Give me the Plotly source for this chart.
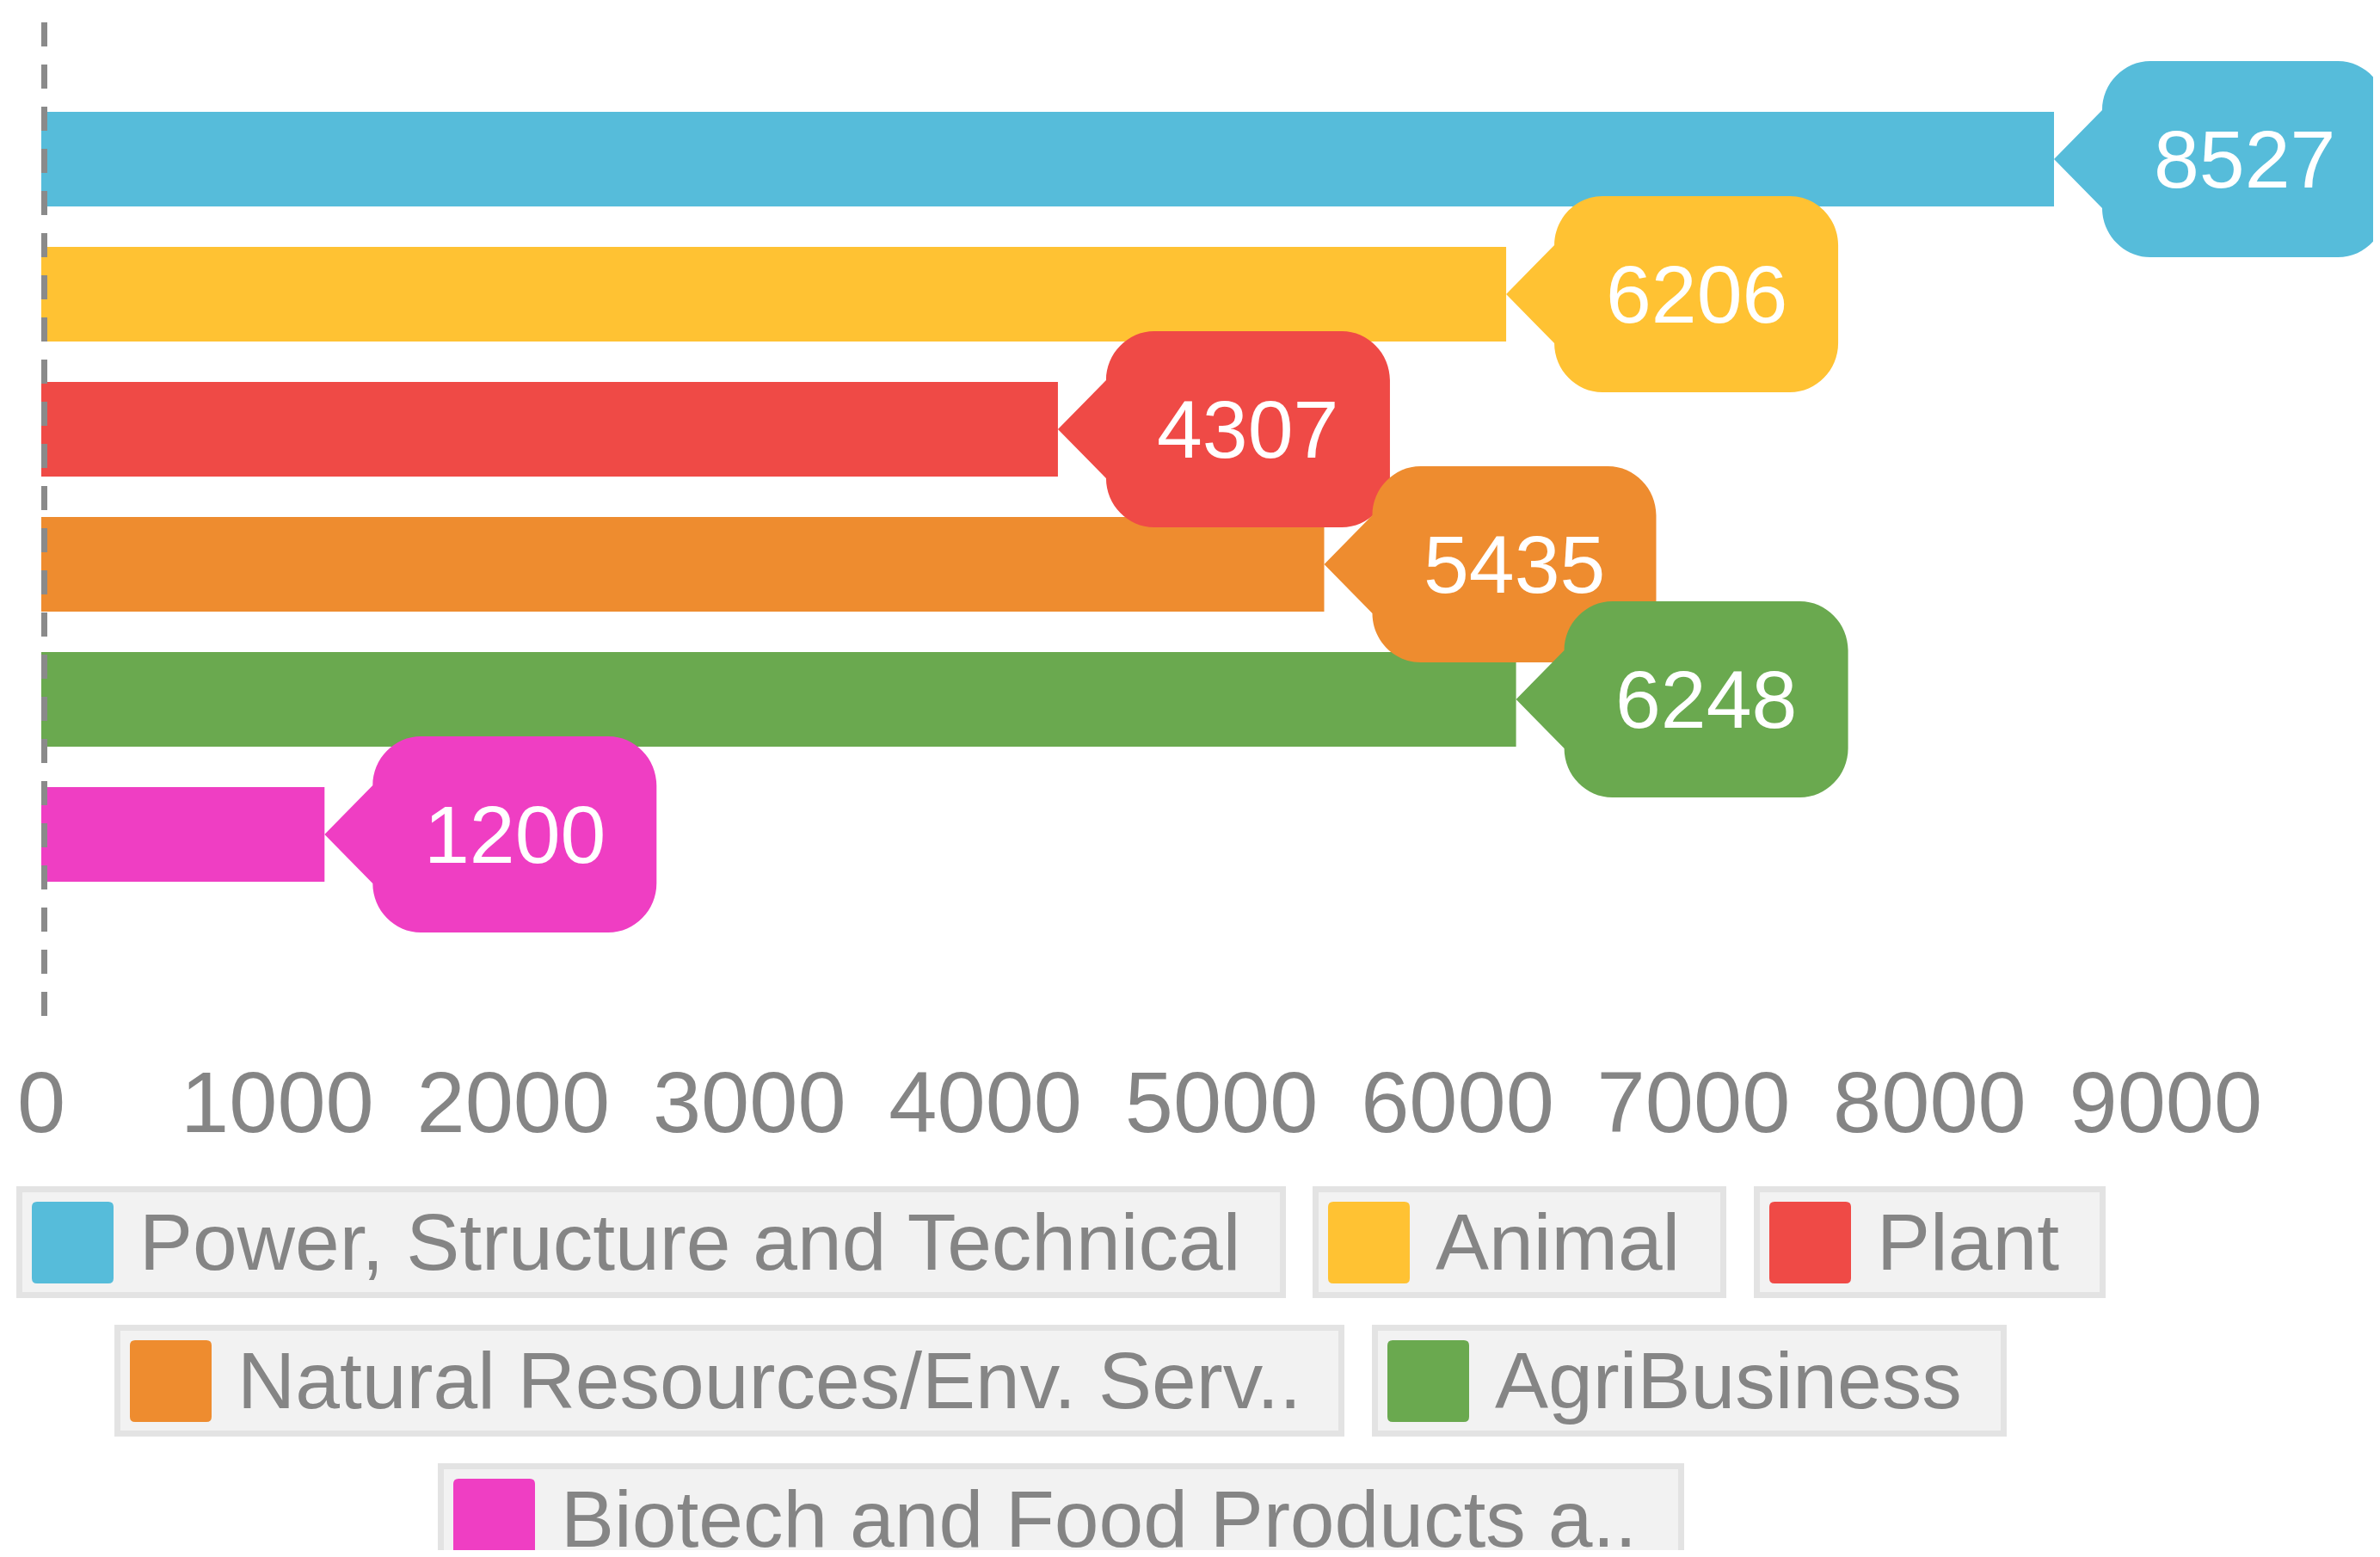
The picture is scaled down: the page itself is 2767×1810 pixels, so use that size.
import plotly.graph_objects as go

# ---------------- data ----------------
categories = ["Power, Structure and Technical", "Animal", "Plant",
              "Natural Resources/Env. Serv..", "AgriBusiness",
              "Biotech and Food Products a.."]
values = [8527, 6206, 4307, 5435, 6248, 1200]
colors = ["#56BCDA", "#FFC233", "#EF4A46", "#EE8C2F", "#6AA94F", "#EF3EC3"]
tick_values = [0, 1000, 2000, 3000, 4000, 5000, 6000, 7000, 8000, 9000]
tick_labels = ["0", "1000", "2000", "3000", "4000", "5000", "6000", "7000", "8000", "9000"]

FONT = "Arial, Liberation Sans, sans-serif"
GRAY = "#858585"

OFF = 8  # default page body margin
W, H = 2767 - 2 * OFF, 1810 - 2 * OFF
L, T = 48 - OFF, 26 - OFF
B = H - (1186 - OFF)
R = 0
PW, PH = W - L - R, H - T - B
XMAX = PW / (2340 / 8527)  # keep 0 -> page px 48, 8527 -> page px 2388


def px2paper_x(px):
    return (px - OFF - L) / PW


def px2paper_y(py):
    return (H - B - (py - OFF)) / PH


fig = go.Figure()
for i, (cat, val, col) in enumerate(zip(categories, values, colors)):
    fig.add_trace(go.Bar(
        x=[val], y=[i], orientation="h", width=0.7,
        marker=dict(color=col, line=dict(width=0)),
        name=cat, showlegend=False, hoverinfo="x+name",
    ))

shapes = []
# dashed zero line
shapes.append(dict(type="line", xref="x", yref="paper", xsizemode="pixel", xanchor=0,
                   x0=3.5, x1=3.5, y0=1, y1=0,
                   line=dict(color="#8A8A8A", width=7, dash="28px,21px"), layer="above"))

# callouts
a, hh, HH, Wc, r = 56, 57, 114, 330, 56
k = 0.5523 * r


def callout_path():
    p = f"M0,0 L{a},{hh} "
    p += f"C{a},{hh + k} {a + r - k},{HH} {a + r},{HH} "
    p += f"L{a + Wc - r},{HH} "
    p += f"C{a + Wc - r + k},{HH} {a + Wc},{hh + k} {a + Wc},{hh} "
    p += f"L{a + Wc},{-hh} "
    p += f"C{a + Wc},{-hh - k} {a + Wc - r + k},{-HH} {a + Wc - r},{-HH} "
    p += f"L{a + r},{-HH} "
    p += f"C{a + r - k},{-HH} {a},{-hh - k} {a},{-hh} Z"
    return p


annotations = []
for i, (val, col) in enumerate(zip(values, colors)):
    shapes.append(dict(type="path", xref="x", yref="y", xsizemode="pixel", ysizemode="pixel",
                       xanchor=val, yanchor=i, path=callout_path(),
                       fillcolor=col, line=dict(width=0), layer="above"))
    annotations.append(dict(x=val, y=i, xref="x", yref="y", xshift=a + Wc / 2, yshift=0,
                            text=str(val), showarrow=False, xanchor="center", yanchor="middle",
                            font=dict(family=FONT, size=95, color="white")))

# custom legend (box pixel extents per item, page coordinates)
legend_boxes = [
    (19, 1495, 1379), (1526, 2007, 1379), (2039, 2448, 1379),
    (133, 1563, 1540), (1595, 2333, 1540),
    (509, 1958, 1701),
]
box_h = 130
for (x0, x1, y0), cat, col in zip(legend_boxes, categories, colors):
    shapes.append(dict(type="rect", xref="paper", yref="paper",
                       x0=px2paper_x(x0 + 3.5), x1=px2paper_x(x1 - 3.5),
                       y0=px2paper_y(y0 + 3.5), y1=px2paper_y(y0 + box_h - 3.5),
                       fillcolor="#F2F2F2", line=dict(color="#E3E3E3", width=7), layer="above"))
    sx0, sy0 = x0 + 18, y0 + 18
    sx1, sy1 = sx0 + 95, sy0 + 95
    rr = 6
    sp = (f"M{px2paper_x(sx0 + rr)},{px2paper_y(sy0)} L{px2paper_x(sx1 - rr)},{px2paper_y(sy0)} "
          f"Q{px2paper_x(sx1)},{px2paper_y(sy0)} {px2paper_x(sx1)},{px2paper_y(sy0 + rr)} "
          f"L{px2paper_x(sx1)},{px2paper_y(sy1 - rr)} "
          f"Q{px2paper_x(sx1)},{px2paper_y(sy1)} {px2paper_x(sx1 - rr)},{px2paper_y(sy1)} "
          f"L{px2paper_x(sx0 + rr)},{px2paper_y(sy1)} "
          f"Q{px2paper_x(sx0)},{px2paper_y(sy1)} {px2paper_x(sx0)},{px2paper_y(sy1 - rr)} "
          f"L{px2paper_x(sx0)},{px2paper_y(sy0 + rr)} "
          f"Q{px2paper_x(sx0)},{px2paper_y(sy0)} {px2paper_x(sx0 + rr)},{px2paper_y(sy0)} Z")
    shapes.append(dict(type="path", xref="paper", yref="paper", path=sp,
                       fillcolor=col, line=dict(width=0), layer="above"))
    annotations.append(dict(x=px2paper_x(x0 + 141), y=px2paper_y(y0 + box_h / 2),
                            xref="paper", yref="paper", text=cat, showarrow=False,
                            xanchor="left", yanchor="middle",
                            font=dict(family=FONT, size=93, color=GRAY)))

fig.update_layout(
    width=W, height=H,
    margin=dict(l=L, r=R, t=T, b=B, autoexpand=False),
    paper_bgcolor="white", plot_bgcolor="white",
    showlegend=False,
    xaxis=dict(range=[0, XMAX], tickvals=tick_values, ticktext=tick_labels,
               showgrid=False, zeroline=False, showline=False, ticks="",
               tickfont=dict(family=FONT, size=101, color=GRAY), ticklabelstandoff=28),
    yaxis=dict(range=[6.376, -1.013], showgrid=False, zeroline=False, showline=False,
               showticklabels=False, ticks=""),
    shapes=shapes,
    annotations=annotations,
)

fig.write_html("out.html")
